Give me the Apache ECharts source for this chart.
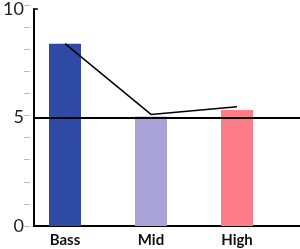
<!DOCTYPE html>
<html>
<head>
<meta charset="utf-8">
<script src="https://cdn.jsdelivr.net/npm/echarts@6/dist/echarts.min.js"></script>
<style>
  html, body { margin: 0; padding: 0; background: #fff; }
  #chart { width: 300px; height: 249px; }
</style>
</head>
<body>
<div id="chart"></div>
<script>
// values
const categories = ["Bass", "Mid", "High"];
const barValues = [8.25, 4.95, 5.25];
const lineValues = [8.25, 5.05, 5.4];
const barColors = ["#2f4aa6", "#aaa3d8", "#fd7c87"];
const refLevel = 5;
const yMin = 0;
const yMax = 10;

const chart = echarts.init(document.getElementById("chart"));
chart.setOption({
  backgroundColor: "#fff",
  animation: false,
  grid: [
    // frame: axes + reference line
    { left: 30, right: 0, top: 5, bottom: 23 },
    // bars + connecting line
    { left: 22, right: 20, top: 5, bottom: 23 }
  ],
  xAxis: [
    {
      gridIndex: 0,
      type: "value",
      min: 0,
      max: 1,
      axisLine: { show: true, onZero: false, lineStyle: { color: "#000", width: 2 } },
      axisTick: { show: false },
      axisLabel: { show: false },
      splitLine: { show: false }
    },
    {
      gridIndex: 1,
      type: "category",
      data: categories,
      axisLine: { show: false },
      axisTick: { show: false },
      axisLabel: {
        margin: 7,
        fontFamily: "Lato",
        fontWeight: "bold",
        fontSize: 15,
        color: "#111"
      }
    }
  ],
  yAxis: [
    {
      gridIndex: 0,
      type: "value",
      min: yMin,
      max: yMax,
      interval: 5,
      axisLine: { show: true, onZero: false, lineStyle: { color: "#000", width: 2 } },
      axisTick: { show: true, inside: true, length: 4, lineStyle: { color: "#000", width: 1.5 } },
      axisLabel: { margin: 10, fontFamily: "Lato", fontSize: 18, color: "#222" },
      splitLine: { show: false }
    },
    {
      gridIndex: 1,
      type: "value",
      min: yMin,
      max: yMax,
      interval: 1,
      offset: -8,
      axisLine: { show: false },
      axisTick: { show: true, inside: false, length: 6, lineStyle: { color: "#bbb", width: 1 } },
      axisLabel: { show: false },
      splitLine: { show: false }
    }
  ],
  series: [
    {
      type: "line",
      xAxisIndex: 0,
      yAxisIndex: 0,
      data: [],
      silent: true,
      markLine: {
        symbol: "none",
        silent: true,
        label: { show: false },
        lineStyle: { color: "#000", width: 2, type: "solid" },
        data: [{ yAxis: refLevel }]
      },
      z: 1
    },
    {
      type: "bar",
      xAxisIndex: 1,
      yAxisIndex: 1,
      barWidth: 32,
      data: barValues.map((v, i) => ({ value: v, itemStyle: { color: barColors[i] } })),
      z: 2
    },
    {
      type: "line",
      xAxisIndex: 1,
      yAxisIndex: 1,
      data: lineValues,
      symbol: "none",
      lineStyle: { color: "#000", width: 1.5 },
      z: 3
    }
  ]
});
</script>
</body>
</html>
